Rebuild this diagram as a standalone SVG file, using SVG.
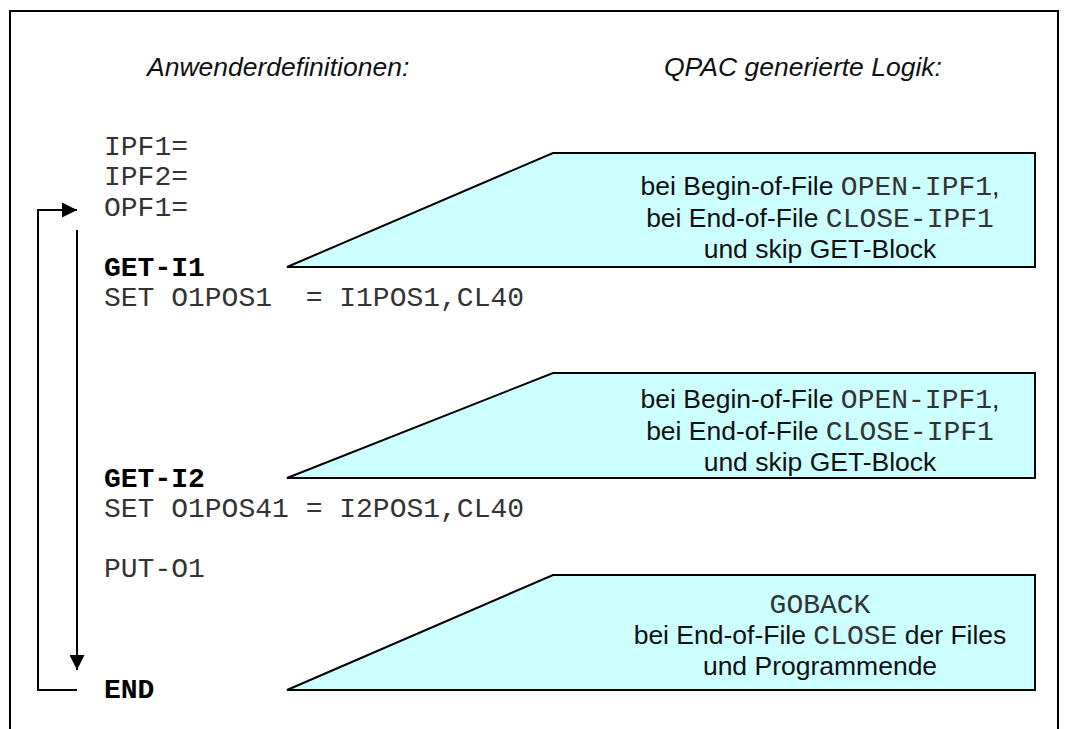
<svg xmlns="http://www.w3.org/2000/svg" width="1073" height="729" viewBox="0 0 1073 729">
<style>
.head{font-family:"Liberation Sans",Arial,sans-serif;font-style:italic;font-size:26.5px;fill:#111}
.code{font-family:"Liberation Mono","Courier New",monospace;font-size:28px;fill:#333}
.bold{font-weight:bold;fill:#000}
.lbl{font-family:"Liberation Sans",Arial,sans-serif;font-size:26.5px;fill:#111;text-anchor:middle}
.m{font-family:"Liberation Mono","Courier New",monospace;font-size:28px;fill:#333}
.trap{fill:#CCFFFF;stroke:#000;stroke-width:2}
.conn{fill:none;stroke:#000;stroke-width:2}
</style>
<defs>
<marker id="ah2" viewBox="0 0 10 10" refX="10" refY="5" markerWidth="15" markerHeight="15" markerUnits="userSpaceOnUse" orient="auto">
<path d="M0,0 L10,5 L0,10 z" fill="#000"/>
</marker>
</defs>
<rect width="1073" height="729" fill="#fff"/>
<path d="M10,729 V11 H1058 V729" fill="none" stroke="#000" stroke-width="2"/>

<text class="head" x="147" y="76">Anwenderdefinitionen:</text>
<text class="head" x="664" y="76">QPAC generierte Logik:</text>

<g id="code">
<text class="code" x="104" y="155">IPF1=</text>
<text class="code" x="104" y="185">IPF2=</text>
<text class="code" x="104" y="216">OPF1=</text>
<text class="code bold" x="104" y="276">GET-I1</text>
<text class="code" x="104" y="306" xml:space="preserve">SET O1POS1  = I1POS1,CL40</text>
<text class="code bold" x="104" y="487">GET-I2</text>
<text class="code" x="104" y="517">SET O1POS41 = I2POS1,CL40</text>
<text class="code" x="104" y="577">PUT-O1</text>
<text class="code bold" x="104" y="698">END</text>
</g>

<g id="connectors">
<path class="conn" d="M77,690 H38 V210 H77" stroke-width="1.5" marker-end="url(#ah2)"/>
<path class="conn" d="M77,230 V670" marker-end="url(#ah2)"/>
</g>

<g id="box1">
<path class="trap" d="M287,267 L553,153 H1035 V267 Z"/>
<text class="lbl" x="820" y="195">bei Begin-of-File <tspan class="m">OPEN-IPF1</tspan>,</text>
<text class="lbl" x="820" y="227">bei End-of-File <tspan class="m">CLOSE-IPF1</tspan></text>
<text class="lbl" x="820" y="258">und skip GET-Block</text>
</g>

<g id="box2">
<path class="trap" d="M287,478 L553,373 H1035 V478 Z"/>
<text class="lbl" x="820" y="408">bei Begin-of-File <tspan class="m">OPEN-IPF1</tspan>,</text>
<text class="lbl" x="820" y="440">bei End-of-File <tspan class="m">CLOSE-IPF1</tspan></text>
<text class="lbl" x="820" y="471">und skip GET-Block</text>
</g>

<g id="box3">
<path class="trap" d="M287,690 L553,575 H1035 V690 Z"/>
<text class="lbl" x="820" y="613"><tspan class="m">GOBACK</tspan></text>
<text class="lbl" x="820" y="644">bei End-of-File <tspan class="m">CLOSE</tspan> der Files</text>
<text class="lbl" x="820" y="675">und Programmende</text>
</g>
</svg>
